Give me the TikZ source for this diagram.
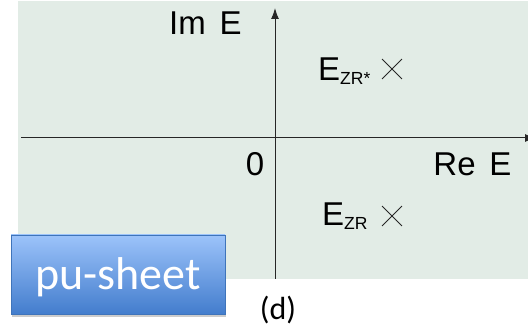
\documentclass[tikz,border=0pt]{standalone}
\usepackage{fontspec}
\setmainfont{Liberation Sans}
\newfontfamily\calibri{Carlito}
\usetikzlibrary{arrows.meta,shapes.misc,shadows}
\definecolor{plane}{HTML}{E2ECE6}
\definecolor{axis}{HTML}{262626}
\definecolor{sheettop}{HTML}{9CC3FA}
\definecolor{sheetbot}{HTML}{437DCD}
\definecolor{sheetrim}{HTML}{3F74BA}

\begin{document}
\begin{tikzpicture}[x=1pt,y=-1pt,>={Latex[length=11pt,width=8pt]},
  every node/.style={inner sep=0pt,text=black},
  lbl/.style={font=\fontsize{33}{33}\selectfont},
  pole/.style={draw=axis,cross out,minimum size=19pt,line width=.9pt},
  sheet/.style={draw=sheetrim,line width=.8pt,top color=sheettop,
    bottom color=sheetbot,minimum width=214pt,text height=55pt,
    text depth=24pt,text=white,font=\calibri\fontsize{46}{46}\selectfont,
    drop shadow={opacity=.4,shadow xshift=1pt,shadow yshift=-3pt}}]
  \useasboundingbox (0,0) rectangle (528,331);
  \fill[plane] (18,1) rectangle (528,279);

  % axes
  \coordinate (W) at (21,138);
  \coordinate (Ea) at (536,138);
  \coordinate (S) at (275,279);
  \coordinate (N) at (275,8);
  \draw[axis,line width=1pt,->] (W) -- (Ea);
  \draw[axis,line width=1pt,->] (S) -- (N);
  \node[lbl] (imE) at (205.5,23.5) {Im\hspace{.42em}E};
  \node[lbl] (reE) at (472.5,164.5) {Re\hspace{.42em}E};
  \node[lbl] (zero) at (255,164.5) {0};

  % poles
  \node[lbl,anchor=base west] (ezrs) at (318,81)
    {E\raisebox{-3.3pt}{\fontsize{17.5}{17.5}\selectfont ZR*}};
  \node[pole] (xzrs) at (392,69) {};
  \node[lbl,anchor=base west] (ezr) at (322,226)
    {E\raisebox{-3.3pt}{\fontsize{17.5}{17.5}\selectfont ZR}};
  \node[pole] (xzr) at (392,216) {};

  % sheet tag
  \node[sheet] (pu) at (118,274.5) {pu-sheet};
  \node[font=\calibri\fontsize{32}{32}\selectfont,anchor=base] (d) at (278,320) {(d)};
\end{tikzpicture}
\end{document}
